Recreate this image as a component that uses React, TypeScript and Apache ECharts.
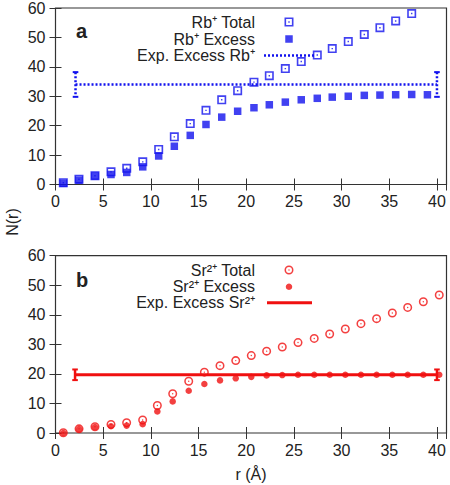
import React, { useEffect, useRef } from "react";
import * as echarts from "echarts";

// ---- Panel a: Rb+ ----
const rTop = [0.82, 2.46, 4.14, 5.82, 7.47, 9.15, 10.82, 12.46, 14.13, 15.78, 17.43, 19.1, 20.81, 22.42, 24.1, 25.77, 27.45, 29.02, 30.7, 32.38, 34.02, 35.67, 37.35, 39.0];
const rbTotal = [0.6, 1.8, 3.0, 4.3, 5.5, 7.7, 11.9, 16.2, 20.7, 25.2, 28.8, 31.9, 34.8, 37.0, 39.4, 41.8, 44.0, 46.2, 48.6, 51.0, 53.3, 55.6, 58.1];
const rbExcess = [0.4, 1.5, 2.9, 3.4, 4.1, 6.0, 9.7, 13.0, 16.7, 20.4, 22.9, 24.9, 26.1, 27.1, 28.0, 28.8, 29.3, 29.7, 30.0, 30.3, 30.4, 30.5, 30.6, 30.5];
const rbExpR = [2.1, 40.0];
const rbExpValue = 34.0;
const rbExpError = 4.2;

// ---- Panel b: Sr2+ ----
const rBottom = [0.82, 2.47, 4.14, 5.82, 7.46, 9.14, 10.68, 12.29, 13.97, 15.61, 17.25, 18.9, 20.53, 22.14, 23.78, 25.43, 27.13, 28.75, 30.39, 32.03, 33.67, 35.32, 36.93, 38.57, 40.24];
const srTotal = [0.1, 1.4, 2.1, 2.9, 3.5, 4.4, 9.3, 13.3, 17.5, 20.6, 22.8, 24.5, 26.2, 27.7, 29.1, 30.6, 32.0, 33.5, 35.2, 37.0, 38.7, 40.6, 42.5, 44.4, 46.7];
const srExcess = [0.0, 1.3, 2.0, 2.3, 2.5, 3.0, 7.3, 10.7, 14.3, 16.6, 17.8, 18.5, 19.0, 19.5, 19.6, 19.7, 19.7, 19.7, 19.7, 19.7, 19.7, 19.7, 19.7, 19.7, 19.7];
const srExpR = [2.05, 40.0];
const srExpValue = 19.7;
const srExpError = 1.8;

const xRange = [0, 41];
const yRange = [0, 60];
const xStep = 5;
const yStep = 10;

const BLUE = "#1212ee";
const RED = "#f01010";
const INK = "#222";
const FRAME = "#333";
const FONT = "Liberation Sans, Arial, Helvetica, sans-serif";

const OPEN_SQUARE = "path://M0,0H10V10H0Z M1.8,1.8V8.2H8.2V1.8Z M4.2,4.2H5.8V5.8H4.2Z";
const FILLED_SQUARE = "path://M0,0H10V10H0Z";
const OPEN_CIRCLE =
  "path://M5,0A5,5,0,1,1,5,10A5,5,0,1,1,5,0Z M5,1.7A3.3,3.3,0,1,0,5,8.3A3.3,3.3,0,1,0,5,1.7Z M5,4.2A0.8,0.8,0,1,1,5,5.8A0.8,0.8,0,1,1,5,4.2Z";
const DOTTED_ICON = (() => {
  let d = "path://";
  for (let i = 0; i < 13; i++) {
    const x = i * 4;
    d += `M${x},0H${x + 2}V2.5H${x}Z `;
  }
  return d.trim();
})();

const GRID_LEFT = 55.5;
const GRID_RIGHT = 3.5;
const LEGEND_TEXT_END = 255;
const LEGEND_SYMBOL_X = 289;

function xAxis(gridIndex: number, position: string, labels: boolean, name?: string) {
  return {
    type: "value",
    gridIndex,
    position,
    min: xRange[0],
    max: xRange[1],
    interval: xStep,
    name: name || "",
    nameLocation: "middle",
    nameGap: 33,
    nameTextStyle: { fontSize: 16, color: INK, fontFamily: FONT },
    axisLine: { show: false },
    splitLine: { show: false },
    axisTick: { show: true, inside: true, length: 6, lineStyle: { color: FRAME, width: 1 } },
    axisLabel: { show: labels, showMaxLabel: false, margin: 9, color: INK, fontSize: 16, fontFamily: FONT },
  };
}

function yAxis(gridIndex: number, position: string, labels: boolean) {
  return {
    type: "value",
    gridIndex,
    position,
    min: yRange[0],
    max: yRange[1],
    interval: yStep,
    axisLine: { show: false },
    splitLine: { show: false },
    axisTick: { show: true, inside: true, length: 6, lineStyle: { color: FRAME, width: 1 } },
    axisLabel: { show: labels, margin: 10, color: INK, fontSize: 16, fontFamily: FONT },
  };
}

function errorBar(color: string, dash: number[] | null) {
  return (params: any, api: any) => {
    const x = api.value(0);
    const y = api.value(1);
    const e = api.value(2);
    const hi = api.coord([x, y + e]);
    const lo = api.coord([x, y - e]);
    const cap = 2.8;
    const barStyle = { stroke: color, lineWidth: 2.5, lineDash: dash, fill: null };
    const capStyle = { stroke: color, lineWidth: 2, fill: null };
    return {
      type: "group",
      children: [
        { type: "line", shape: { x1: hi[0], y1: hi[1], x2: lo[0], y2: lo[1] }, style: barStyle },
        { type: "line", shape: { x1: hi[0] - cap, y1: hi[1], x2: hi[0] + cap, y2: hi[1] }, style: capStyle },
        { type: "line", shape: { x1: lo[0] - cap, y1: lo[1], x2: lo[0] + cap, y2: lo[1] }, style: capStyle },
      ],
    };
  };
}

// One legend component per entry so each symbol can have its own size.
// Icon box spans [iconLeft, iconLeft + itemWidth]; text is right-aligned 5px left of it.
function legendItem(name: string, centerY: number, iconLeft: number, itemWidth: number, itemHeight: number, icon: string) {
  const padRight = iconLeft - 5 - LEGEND_TEXT_END;
  return {
    data: [{ name, icon }],
    orient: "vertical",
    align: "right",
    right: 450 - (iconLeft + itemWidth),
    top: centerY - 10.25,
    padding: 0,
    itemGap: 0,
    itemWidth,
    itemHeight,
    selectedMode: false,
    textStyle: {
      fontSize: 16,
      fontFamily: FONT,
      color: INK,
      lineHeight: 16.5,
      padding: [4, padRight, 0, 0],
    },
  };
}

function symbolLegend(name: string, centerY: number, size: number, icon: string) {
  return legendItem(name, centerY, LEGEND_SYMBOL_X - size / 2, size, size, icon);
}

export default function App() {
  const ref = useRef<HTMLDivElement>(null);

  useEffect(() => {
    if (!ref.current) return;
    const chart = echarts.init(ref.current, undefined, { renderer: "svg" });

    const option: any = {
      animation: false,
      backgroundColor: "#ffffff",
      textStyle: { fontFamily: FONT },
      grid: [
        { left: GRID_LEFT, right: GRID_RIGHT, top: 7, height: 177.5, show: true, borderColor: FRAME, borderWidth: 1.2, backgroundColor: "transparent" },
        { left: GRID_LEFT, right: GRID_RIGHT, top: 255.7, height: 177.3, show: true, borderColor: FRAME, borderWidth: 1.2, backgroundColor: "transparent" },
      ],
      xAxis: [
        xAxis(0, "bottom", true),
        xAxis(0, "top", false),
        xAxis(1, "bottom", true, "r (Å)"),
        xAxis(1, "top", false),
      ],
      yAxis: [yAxis(0, "left", true), yAxis(0, "right", false), yAxis(1, "left", true), yAxis(1, "right", false)],
      legend: [
        symbolLegend("Rb⁺ Total", 22, 9, OPEN_SQUARE),
        symbolLegend("Rb⁺ Excess", 39, 7.5, FILLED_SQUARE),
        legendItem("Exp. Excess Rb⁺", 55.5, 264, 50, 2.5, DOTTED_ICON),
        symbolLegend("Sr²⁺ Total", 270, 9, OPEN_CIRCLE),
        symbolLegend("Sr²⁺ Excess", 286.7, 6.5, "circle"),
        legendItem("Exp. Excess Sr²⁺", 302.7, 267, 45, 3, "rect"),
      ],
      graphic: [
        { type: "text", left: 76, top: 21, style: { text: "a", fontSize: 20, fontWeight: "bold", fontFamily: FONT, fill: INK } },
        { type: "text", left: 76, top: 270, style: { text: "b", fontSize: 20, fontWeight: "bold", fontFamily: FONT, fill: INK } },
        {
          type: "text",
          x: 12,
          y: 222,
          rotation: Math.PI / 2,
          style: { text: "N(r)", fontSize: 16, fontFamily: FONT, fill: INK, align: "center", verticalAlign: "middle" },
        },
      ],
      series: [
        {
          name: "Rb⁺ Total",
          type: "scatter",
          xAxisIndex: 0,
          yAxisIndex: 0,
          symbol: OPEN_SQUARE,
          symbolSize: 9,
          itemStyle: { color: BLUE, borderWidth: 0 },
          data: rbTotal.map((v, i) => [rTop[i], v]),
        },
        {
          name: "Rb⁺ Excess",
          type: "scatter",
          xAxisIndex: 0,
          yAxisIndex: 0,
          symbol: "rect",
          symbolSize: 7.5,
          itemStyle: { color: BLUE, borderWidth: 0 },
          data: rbExcess.map((v, i) => [rTop[i], v]),
        },
        {
          name: "Exp. Excess Rb⁺",
          type: "line",
          xAxisIndex: 0,
          yAxisIndex: 0,
          symbol: "none",
          itemStyle: { color: BLUE },
          lineStyle: { color: BLUE, width: 2.5, type: [2, 2] },
          data: rbExpR.map((r) => [r, rbExpValue]),
        },
        {
          type: "custom",
          xAxisIndex: 0,
          yAxisIndex: 0,
          renderItem: errorBar(BLUE, [2, 2]),
          encode: { x: 0, y: 1 },
          data: rbExpR.map((r) => [r, rbExpValue, rbExpError]),
        },
        {
          name: "Sr²⁺ Total",
          type: "scatter",
          xAxisIndex: 2,
          yAxisIndex: 2,
          symbol: OPEN_CIRCLE,
          symbolSize: 9,
          itemStyle: { color: RED, borderWidth: 0 },
          data: srTotal.map((v, i) => [rBottom[i], v]),
        },
        {
          name: "Sr²⁺ Excess",
          type: "scatter",
          xAxisIndex: 2,
          yAxisIndex: 2,
          symbol: "circle",
          symbolSize: 6.5,
          itemStyle: { color: RED, borderWidth: 0 },
          data: srExcess.map((v, i) => [rBottom[i], v]),
        },
        {
          name: "Exp. Excess Sr²⁺",
          type: "line",
          xAxisIndex: 2,
          yAxisIndex: 2,
          symbol: "none",
          itemStyle: { color: RED },
          lineStyle: { color: RED, width: 3 },
          data: srExpR.map((r) => [r, srExpValue]),
        },
        {
          type: "custom",
          xAxisIndex: 2,
          yAxisIndex: 2,
          renderItem: errorBar(RED, null),
          encode: { x: 0, y: 1 },
          data: srExpR.map((r) => [r, srExpValue, srExpError]),
        },
      ],
    };

    chart.setOption(option);
    return () => chart.dispose();
  }, []);

  return (
    <div
      ref={ref}
      style={{ position: "fixed", left: 0, top: 0, width: 450, height: 485, background: "#fff" }}
    />
  );
}
